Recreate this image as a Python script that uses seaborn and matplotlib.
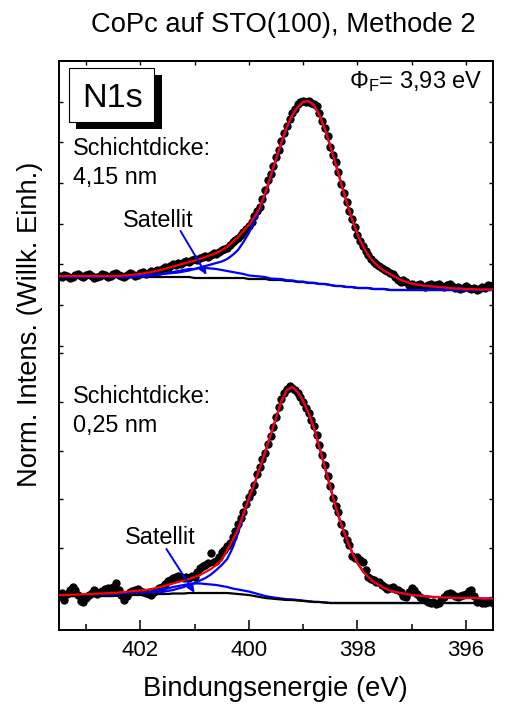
import numpy as np
import pandas as pd
import matplotlib
matplotlib.use("Agg")
import matplotlib.pyplot as plt
from matplotlib.ticker import MultipleLocator, NullFormatter
from matplotlib.patches import Rectangle
import seaborn as sns

# ---------------- data (arbitrary intensity units) ----------------
E_START, E_STEP_DATA, E_STEP_FIT = 403.5, 0.05, 0.1

top_counts = [354, 353, 355, 354, 352, 353, 355, 356, 354, 353,
              355, 356, 354, 352, 353, 354, 356, 355, 353, 354,
              356, 357, 355, 354, 353, 355, 357, 356, 354, 355,
              357, 358, 356, 357, 359,
              358, 360, 359, 361, 363, 362, 364, 366, 365, 367,
              366, 368, 369, 368, 370, 371, 370, 372, 373, 374,
              373, 375, 377, 376, 378, 380, 381, 382, 385, 388,
              390, 392, 395, 398, 401,
              404, 408, 414, 419, 423, 431, 440, 450, 456, 464,
              473, 480, 489, 497, 504, 511, 517, 521, 526, 528,
              529, 528, 529, 527, 526, 524, 517, 509, 502, 494,
              483, 475, 468, 458, 446, 437, 428, 419, 411, 403,
              395, 389, 384, 379, 375, 371, 368, 366, 364, 362,
              360, 359, 357, 356, 353, 350, 348, 350, 348, 345,
              346, 344, 345, 346, 344, 343, 345, 346, 344, 345,
              346, 344, 343, 345, 346, 344, 342, 343, 341, 342,
              344, 342, 341, 342, 340, 341, 343, 342, 345, 344, 345]

bot_counts = [34, 37, 30, 36, 40, 43, 40, 35, 29, 28,
              32, 35, 37, 40, 36, 38, 39, 41, 42, 39,
              43, 47, 40, 35, 30, 34, 38, 39, 40, 41,
              39, 38, 37, 36, 35, 38, 40, 42, 43, 46,
              49, 50, 52, 53, 54, 53, 52, 53, 52, 54,
              53, 58, 62, 64, 65, 67, 77, 68, 69, 73,
              78, 80, 84, 87, 93, 99, 106, 112, 118, 126,
              133, 138, 145, 156, 163, 171, 177, 186, 194, 203,
              213, 223, 231, 237, 241, 244, 242, 240, 237, 233,
              228, 222, 217, 210, 204, 195, 185, 175, 165, 154,
              144, 132, 124, 118, 106, 97, 90, 85, 74, 72,
              73, 70, 68, 60, 53, 51, 50, 48, 48, 45,
              43, 41, 42, 43, 41, 40, 38, 34, 33, 38,
              42, 40, 36, 33, 31, 30, 28, 27, 28, 26,
              27, 30, 33, 36, 37, 36, 34, 33, 34, 35,
              36, 39, 40, 34, 28, 29, 27, 27, 28, 29, 27]

# fit curves, sampled every 0.1 eV from 403.5 eV
top_bg = ([353] * 25 + [352] * 10 + [351] * 4 + [350] * 2 +
          [350, 349, 349, 348, 348, 347, 347, 346, 346, 345,
           344, 344, 343, 343, 342, 342, 342, 341, 341, 341] + [340] * 20)
top_sat = ([353] * 14 +
           [353.5, 353.5, 354, 354.5, 355, 356, 357, 358, 359, 360, 361,
            361, 362, 362, 361.5, 361, 360, 359, 358, 357, 356,
            354.5, 354, 353.5, 353, 351.5, 351.2,
            351, 349.8, 349.6, 348.5, 348.4, 347.3, 347.2, 346.1, 346, 345,
            344, 344, 343, 343, 342, 342, 342, 341, 341, 341] + [340] * 20)
top_fit = ([354] * 11 +
           [354, 354.5, 355, 355.5, 356, 357, 358, 359, 360.5, 362,
            363.5, 365, 366.5, 368, 369.5, 371, 373, 375, 377, 380,
            383, 388, 393, 399, 405, 413, 422, 437, 454, 471,
            488, 503, 515, 523, 528, 529, 525, 515, 501, 484,
            466, 447, 428, 411, 396, 384, 375, 368, 363, 359,
            356, 353, 350, 348, 346.5, 345.5, 344.5, 344, 343.5, 343,
            342.5, 342, 341.5, 341.5, 341, 341, 340.5, 340.5, 340.5, 340.5])
top_main = ([353.5] * 12 + [354] * 3 +
            [354.5, 354.5, 355, 355.5, 356, 356.5,
             357, 357.5, 358.5, 359.5, 361, 362.5, 364, 365.5, 367, 368.5,
             371, 375, 380, 388, 397, 409, 420, 435, 452, 469.5,
             486.5, 501.5, 514, 522.5, 527.5, 528.5, 524.5, 515,
             501, 484, 466, 447, 428, 411, 396, 384, 375, 368, 363, 359,
             356, 353, 350, 348, 346.5, 345.5, 344.5, 344, 343.5, 343,
             342.5, 342, 341.5, 341.5, 341, 341, 340.5, 340.5, 340.5, 340.5])

bot_bg = ([34] * 11 +
          [34.5, 34.5, 35, 35, 35, 35.5, 35.5, 36, 36, 36,
           36.5, 36.5, 36.5, 37, 37, 37, 37, 37, 37, 37, 37,
           36.5, 36, 35.5, 35, 34, 33, 32, 31.5, 31,
           30.5, 30, 30, 29.5, 29, 28.5, 28, 28, 27.5, 27] + [27] * 30)
bot_sat = ([34] * 11 +
           [34.5, 34.5, 35.3, 35.5, 36, 37, 38, 39.5, 40.5, 41.5,
            43, 44, 45, 46, 46.5, 46.5, 46, 45.5, 45, 44, 43,
            41.5, 40.5, 39.5, 38.5, 37, 35.5, 34, 33, 32.2,
            31.5, 30.8, 30.6, 30, 29.4, 28.8, 28.2, 28, 27.5, 27] + [27] * 30)
bot_fit = [35, 35, 35, 35.5, 35.5, 36,
           36, 36.5, 36.5, 37, 37,
           37.5, 38, 38.5, 39, 39.5,
           40, 41, 42, 43.5, 45,
           46.5, 48, 49.5, 51, 53,
           55, 58, 61, 65, 70,
           80, 90, 101, 116, 132,
           146, 162, 178, 195, 212,
           229, 240, 243, 238, 229,
           217, 202, 183, 163, 143,
           123, 106, 91, 78, 67,
           59, 53, 48, 45, 42,
           39.5, 38, 37, 36, 35,
           34.5, 34, 33.5, 33, 33,
           32.5, 32.5, 32, 32, 32, 32, 32, 31.5, 31.5, 31.5]
bot_main = [34, 34, 34, 34, 34.2, 34.4, 34.6, 34.8, 35, 35.2, 35.4, 35.6, 35.8,
            36, 36.2, 36.4, 36.6, 36.8, 37,
            38, 39, 40, 41.5, 43, 45, 47,
            49.5, 52, 55.5, 60, 65, 71, 82, 97, 114, 131,
            145.5, 161.5, 177.5, 194.5, 211.5, 228.5, 239.5, 242.5, 237.5, 228.5, 216.5, 201.5,
            183, 163, 143, 123, 106, 91, 78, 67, 59, 53, 48, 45, 42,
            39.5, 38, 37, 36, 35, 34.5, 34, 33.5, 33, 33,
            32.5, 32.5, 32, 32, 32, 32, 32, 31.5, 31.5, 31.5]

x_ticks_major = [402, 400, 398, 396]

# ---------------- build tables ----------------
E_data = np.round(E_START - E_STEP_DATA * np.arange(len(top_counts)), 3)
E_fit = np.round(E_START - E_STEP_FIT * np.arange(len(top_fit)), 3)
dots = pd.concat([
    pd.DataFrame({"E": E_data, "I": top_counts, "spec": "4,15 nm"}),
    pd.DataFrame({"E": E_data, "I": bot_counts, "spec": "0,25 nm"}),
])
curves = {
    "top_bg": top_bg, "top_sat": top_sat, "top_main": top_main, "top_fit": top_fit,
    "bot_bg": bot_bg, "bot_sat": bot_sat, "bot_main": bot_main, "bot_fit": bot_fit,
}

# ---------------- style ----------------
sns.set_style("ticks")
plt.rcParams["font.family"] = ["Liberation Sans", "DejaVu Sans"]
plt.rcParams["mathtext.fontset"] = "custom"
plt.rcParams["mathtext.rm"] = "Liberation Sans"
plt.rcParams["mathtext.it"] = "Liberation Sans:italic"
plt.rcParams["mathtext.bf"] = "Liberation Sans:bold"
for k in ("text.color", "axes.labelcolor", "xtick.color", "ytick.color",
          "axes.edgecolor"):
    plt.rcParams[k] = "black"

W, H = 507, 713
fig = plt.figure(figsize=(W / 100, H / 100), dpi=100)
L, R, T, B = 59, 493, 61, 630
ax = fig.add_axes([L / W, 1 - B / H, (R - L) / W, (B - T) / H])

sns.scatterplot(data=dots, x="E", y="I", color="black", s=36, linewidth=0,
                legend=False, ax=ax, zorder=2)
colors = {"bg": "black", "sat": "#0000ff", "main": "#0000ff", "fit": "#ff0000"}
orders = {"top": ("bg", "sat", "main", "fit"), "bot": ("sat", "main", "bg", "fit")}
for pre in ("top", "bot"):
    for name in orders[pre]:
        sns.lineplot(x=E_fit, y=curves[f"{pre}_{name}"], color=colors[name], lw=1.6,
                     estimator=None, ax=ax, zorder=3)

ax.set_xlim(403.5, 395.5)
ax.set_ylim(0, 569)
ax.xaxis.set_major_locator(MultipleLocator(2))
ax.xaxis.set_minor_locator(MultipleLocator(1))
ax.set_xticks(x_ticks_major)
ax.set_xticklabels([str(v) for v in x_ticks_major])
# tick marks of the two stacked layers
yt = list(528.3 - 40.64 * np.arange(7)) + list(33 + 48.8 * np.arange(6))
ax.set_yticks(yt)
ax.yaxis.set_major_formatter(NullFormatter())
ax.tick_params(axis="x", which="major", direction="in", length=7.5, width=1.1,
               labelsize=16, pad=7)
ax.tick_params(axis="x", which="minor", direction="in", length=4, width=1.1)
ax.tick_params(axis="y", which="major", direction="in", length=3, width=1.0,
               left=True, right=True)
for s in ax.spines.values():
    s.set_linewidth(1.4)
    s.set_visible(True)

sec = ax.secondary_xaxis("top")
sec.xaxis.set_major_locator(MultipleLocator(2))
sec.xaxis.set_minor_locator(MultipleLocator(1))
sec.xaxis.set_major_formatter(NullFormatter())
sec.tick_params(axis="x", which="both", direction="in", length=3, width=1.0)
sec.spines["top"].set_linewidth(1.4)

ax.set_xlabel("Bindungsenergie (eV)", fontsize=19.7)
ax.xaxis.label.set_va("baseline")
ax.xaxis.set_label_coords((275 - L) / (R - L), -(696 - B) / (B - T))
ax.set_ylabel("Norm. Intens. (Willk. Einh.)", fontsize=19.7)
ax.yaxis.label.set_va("center")
ax.yaxis.set_label_coords((30 - L) / (R - L), (B - 324.5) / (B - T))

fig.text(283 / W, 1 - 32 / H, "CoPc auf STO(100), Methode 2", fontsize=19.7,
         ha="center", va="baseline")

# N1s box with shadow
ax.add_patch(Rectangle((403.185, 501), 401.61 - 403.185, 54, facecolor="black",
                       edgecolor="black", lw=0, zorder=4))
ax.add_patch(Rectangle((403.315, 508), 401.74 - 403.315, 54, facecolor="white",
                       edgecolor="black", lw=0.8, zorder=5))
ax.text(403.07, 523, "N1s", fontsize=24.7, ha="left", va="baseline", zorder=6)

fs = 16.8
ax.text(403.24, 475, "Schichtdicke:", fontsize=fs, ha="left", va="baseline")
ax.text(403.24, 446, "4,15 nm", fontsize=fs, ha="left", va="baseline")
ax.text(403.24, 227, "Schichtdicke:", fontsize=fs, ha="left", va="baseline")
ax.text(403.24, 198, "0,25 nm", fontsize=fs, ha="left", va="baseline")
ax.text(395.69, 542, r"$\Phi_{\mathrm{F}}$= 3,93 eV", fontsize=17, ha="right",
        va="baseline")

arrow = dict(arrowstyle="-|>,head_length=0.45,head_width=0.2", color="#0000ff",
             lw=1.4, shrinkA=0, shrinkB=0)
ax.annotate("Satellit", xy=(400.78, 355), xytext=(402.33, 403), fontsize=fs,
            ha="left", va="baseline", zorder=6)
ax.annotate("", xy=(400.78, 355), xytext=(401.26, 399), arrowprops=arrow, zorder=6)
ax.annotate("Satellit", xy=(401.0, 37), xytext=(402.28, 86), fontsize=fs,
            ha="left", va="baseline", zorder=6)
ax.annotate("", xy=(401.0, 37), xytext=(401.52, 81), arrowprops=arrow, zorder=6)

fig.savefig("out.png", dpi=100)
